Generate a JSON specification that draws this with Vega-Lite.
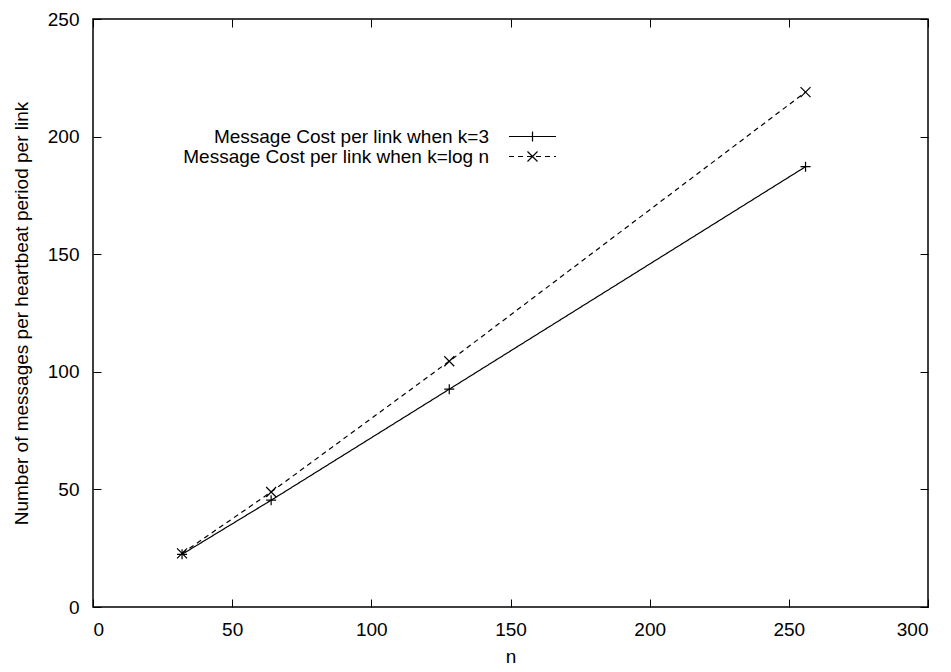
{
  "$schema": "https://vega.github.io/schema/vega-lite/v6.json",
  "width": 835,
  "height": 588,
  "autosize": {"type": "none"},
  "padding": {"left": 93, "top": 19, "right": 23, "bottom": 65},
  "background": "white",
  "config": {
    "font": "Liberation Sans",
    "view": {"stroke": "black", "strokeWidth": 1.5},
    "axis": {
      "grid": false,
      "domain": false,
      "tickColor": "black",
      "tickSize": -8,
      "tickWidth": 1,
      "labelColor": "black",
      "labelFontSize": 19,
      "labelFont": "Liberation Sans",
      "titleFontSize": 19,
      "titleFont": "Liberation Sans",
      "titleFontWeight": "normal",
      "titleColor": "black"
    },
    "legend": {
      "orient": "none",
      "legendX": 430,
      "legendY": 108,
      "padding": 0,
      "labelFontSize": 19,
      "labelFont": "Liberation Sans",
      "labelColor": "black",
      "labelAlign": "right",
      "labelOffset": -53,
      "labelLimit": 600,
      "symbolSize": 100,
      "rowPadding": 0,
      "symbolStrokeWidth": 1.2,
      "symbolStrokeColor": "black",
      "symbolFillColor": "transparent"
    }
  },
  "data": {
    "values": [
      {"n": 32, "value": 22.4, "series": "Message Cost per link when k=3"},
      {"n": 64, "value": 45.4, "series": "Message Cost per link when k=3"},
      {"n": 128, "value": 92.6, "series": "Message Cost per link when k=3"},
      {"n": 256, "value": 187.2, "series": "Message Cost per link when k=3"},
      {"n": 32, "value": 22.8, "series": "Message Cost per link when k=log n"},
      {"n": 64, "value": 48.9, "series": "Message Cost per link when k=log n"},
      {"n": 128, "value": 104.5, "series": "Message Cost per link when k=log n"},
      {"n": 256, "value": 218.9, "series": "Message Cost per link when k=log n"}
    ]
  },
  "layer": [
    {
      "mark": {"type": "line", "color": "black", "strokeWidth": 1.2},
      "encoding": {
        "x": {
          "field": "n", "type": "quantitative",
          "scale": {"domain": [0, 300], "nice": false, "zero": false},
          "axis": {"values": [0, 50, 100, 150, 200, 250, 300], "title": "n", "labelPadding": 21, "titlePadding": 8}
        },
        "y": {
          "field": "value", "type": "quantitative",
          "scale": {"domain": [0, 250], "nice": false},
          "axis": {"values": [0, 50, 100, 150, 200, 250], "title": "Number of messages per heartbeat period per link", "labelPadding": 22, "titlePadding": 16}
        },
        "strokeDash": {
          "field": "series", "type": "nominal", "title": null,
          "scale": {"domain": ["Message Cost per link when k=3", "Message Cost per link when k=log n"], "range": [[1, 0], [5, 4]]},
          "legend": {"symbolType": "M-4.7,0H4.7", "symbolDash": null}
        }
      }
    },
    {
      "mark": {"type": "point", "filled": false, "color": "black", "strokeWidth": 1.2, "size": 100, "opacity": 1},
      "encoding": {
        "x": {
          "field": "n", "type": "quantitative",
          "axis": {"orient": "top", "labels": false, "title": null, "values": [0, 50, 100, 150, 200, 250, 300]}
        },
        "y": {
          "field": "value", "type": "quantitative",
          "axis": {"orient": "right", "labels": false, "title": null, "values": [0, 50, 100, 150, 200, 250]}
        },
        "shape": {
          "field": "series", "type": "nominal", "title": null,
          "scale": {"range": ["M-1,0H1M0,-1V1", "M-1,-1L1,1M-1,1L1,-1"]},
          "legend": {"labelOpacity": 0, "labelColor": "transparent"}
        }
      }
    }
  ],
  "resolve": {"axis": {"x": "independent", "y": "independent"}}
}
